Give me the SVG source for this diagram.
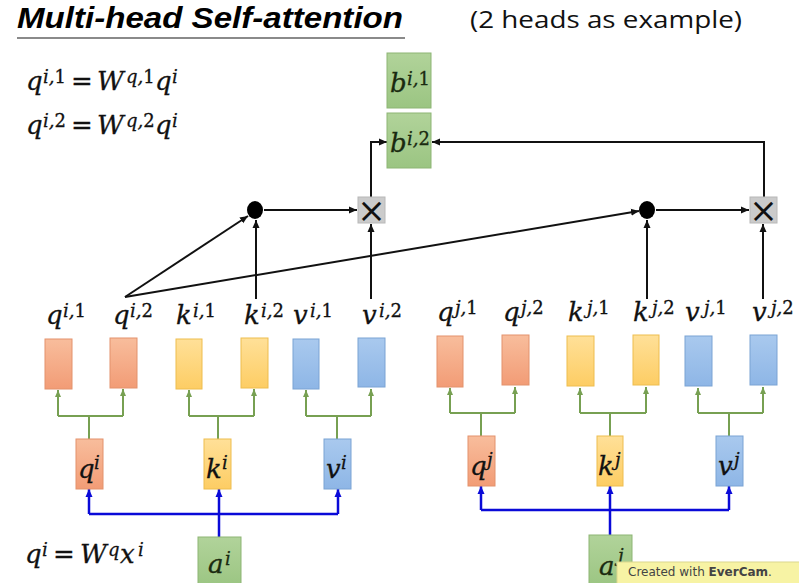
<svg xmlns="http://www.w3.org/2000/svg" width="799" height="583" viewBox="0 0 799 583">
<style>
.m{font-family:"DejaVu Serif",serif;font-style:italic;font-size:26px;fill:#111;stroke:#111;stroke-width:0.3}
.s{font-size:18px}
.u{font-style:normal}
.bin{font-family:"DejaVu Serif",serif;font-style:italic;font-size:26px;fill:#1a2a10;stroke:#1a2a10;stroke-width:0.3}
.or{fill:url(#gOr);stroke:#e3926c;stroke-width:1}
.ye{fill:url(#gYe);stroke:#eebd4f;stroke-width:1}
.bl{fill:url(#gBl);stroke:#7aa3d4;stroke-width:1}
.gr{fill:url(#gGr);stroke:#8db574;stroke-width:1}
.xb{fill:#cbcbcb;stroke:#b8b8b8;stroke-width:1}
.xt{font-family:"DejaVu Sans",sans-serif;font-size:34px;fill:#111;text-anchor:middle}
.k{fill:none;stroke:#111;stroke-width:2;marker-end:url(#ak)}
.g{fill:none;stroke:#77a052;stroke-width:2}
.ga{marker-end:url(#ag)}
.b{fill:none;stroke:#0a0ad8;stroke-width:2.5}
.ba{marker-end:url(#ab)}
</style>
<defs>
<linearGradient id="gOr" x1="0" y1="0" x2="0" y2="1"><stop offset="0" stop-color="#f8bd9c"/><stop offset="1" stop-color="#f29c76"/></linearGradient>
<linearGradient id="gYe" x1="0" y1="0" x2="0" y2="1"><stop offset="0" stop-color="#ffe098"/><stop offset="1" stop-color="#fdcd64"/></linearGradient>
<linearGradient id="gBl" x1="0" y1="0" x2="0" y2="1"><stop offset="0" stop-color="#a9c9ee"/><stop offset="1" stop-color="#8eb6e6"/></linearGradient>
<linearGradient id="gGr" x1="0" y1="0" x2="0" y2="1"><stop offset="0" stop-color="#b1d39a"/><stop offset="1" stop-color="#9bc582"/></linearGradient>
<marker id="ak" markerUnits="userSpaceOnUse" markerWidth="8" markerHeight="8" refX="8" refY="4" orient="auto"><path d="M0,0.5 L8,4 L0,7.5 z" fill="#111"/></marker>
<marker id="ag" markerUnits="userSpaceOnUse" markerWidth="7" markerHeight="7" refX="7" refY="3.5" orient="auto"><path d="M0,0.5 L7,3.5 L0,6.5 z" fill="#77a052"/></marker>
<marker id="ab" markerUnits="userSpaceOnUse" markerWidth="8" markerHeight="8" refX="8" refY="4" orient="auto"><path d="M0,0.5 L8,4 L0,7.5 z" fill="#0a0ad8"/></marker>
</defs>
<rect width="799" height="583" fill="#fff"/>

<g id="title">
<text x="17" y="28" font-family="Liberation Sans,Arial,sans-serif" font-weight="bold" font-style="italic" font-size="30" textLength="386" lengthAdjust="spacingAndGlyphs" fill="#000">Multi-head Self-attention</text>
<line x1="17" y1="38" x2="405" y2="38" stroke="#8a8a8a" stroke-width="2"/>
<text x="470" y="28" font-family="Open Sans,Liberation Sans,sans-serif" font-size="23" textLength="272" lengthAdjust="spacingAndGlyphs" fill="#111">(2 heads as example)</text>
</g>

<g id="equations">
<text class="m"><tspan x="26" y="90">q</tspan><tspan class="s" x="43" y="83">i,<tspan class="u">1</tspan></tspan><tspan class="u" x="71" y="90">=</tspan><tspan x="97" y="90">W</tspan><tspan class="s" x="126" y="83">q,<tspan class="u">1</tspan></tspan><tspan x="155" y="90">q</tspan><tspan class="s" x="172" y="83">i</tspan></text>
<text class="m"><tspan x="26" y="134">q</tspan><tspan class="s" x="43" y="127">i,<tspan class="u">2</tspan></tspan><tspan class="u" x="71" y="134">=</tspan><tspan x="97" y="134">W</tspan><tspan class="s" x="126" y="127">q,<tspan class="u">2</tspan></tspan><tspan x="155" y="134">q</tspan><tspan class="s" x="172" y="127">i</tspan></text>
<text class="m"><tspan x="25" y="563">q</tspan><tspan class="s" x="42" y="556">i</tspan><tspan class="u" x="53" y="563">=</tspan><tspan x="80" y="563">W</tspan><tspan class="s" x="108" y="556">q</tspan><tspan x="120" y="563">x</tspan><tspan class="s" x="138" y="556">i</tspan></text>
</g>

<g id="connectors">
<path class="k" d="M125,297 L248,216"/>
<path class="k" d="M125,297 L639,211"/>
<path class="k" d="M256,299 V220"/>
<path class="k" d="M371,299 V224"/>
<path class="k" d="M264,210 H357"/>
<path class="k" d="M371,197 V142 H387"/>
<path class="k" d="M647,299 V220"/>
<path class="k" d="M763,299 V224"/>
<path class="k" d="M656,210 H749"/>
<path class="k" d="M764,197 V142 H432"/>
<path class="g" d="M89,439 V416 M58,416 H123"/>
<path class="g ga" d="M58,416 V390"/>
<path class="g ga" d="M123,416 V389"/>
<path class="g" d="M218,439 V416 M189,416 H254"/>
<path class="g ga" d="M189,416 V390"/>
<path class="g ga" d="M254,416 V389"/>
<path class="g" d="M337,439 V416 M306,416 H371"/>
<path class="g ga" d="M306,416 V390"/>
<path class="g ga" d="M371,416 V389"/>
<path class="g" d="M481,436 V413 M450,413 H515"/>
<path class="g ga" d="M450,413 V388"/>
<path class="g ga" d="M515,413 V387"/>
<path class="g" d="M610,436 V413 M580,413 H646"/>
<path class="g ga" d="M580,413 V388"/>
<path class="g ga" d="M646,413 V387"/>
<path class="g" d="M729,436 V413 M698,413 H763"/>
<path class="g ga" d="M698,413 V388"/>
<path class="g ga" d="M763,413 V387"/>
<path class="b" d="M89,514 H338"/>
<path class="b ba" d="M219,537 V489"/>
<path class="b ba" d="M89,514 V489"/>
<path class="b ba" d="M338,514 V489"/>
<path class="b" d="M481,510 H729"/>
<path class="b ba" d="M610,535 V486"/>
<path class="b ba" d="M481,510 V486"/>
<path class="b ba" d="M729,510 V486"/>
</g>

<g id="b_i1"><rect class="gr" x="387" y="53" width="44" height="55"/><text class="bin"><tspan x="390" y="92">b</tspan><tspan class="s" x="407" y="85">i,<tspan class="u">1</tspan></tspan></text></g>
<g id="b_i2"><rect class="gr" x="387" y="113" width="44" height="55"/><text class="bin"><tspan x="390" y="152">b</tspan><tspan class="s" x="407" y="145">i,<tspan class="u">2</tspan></tspan></text></g>

<g id="dot_i"><ellipse cx="255" cy="210" rx="8" ry="9" fill="#000"/></g>
<g id="mul_i"><rect class="xb" x="358" y="197" width="27" height="26"/><text class="xt" x="371.5" y="222">×</text></g>
<g id="dot_j"><ellipse cx="647" cy="210" rx="8" ry="9" fill="#000"/></g>
<g id="mul_j"><rect class="xb" x="750" y="197" width="27" height="26"/><text class="xt" x="763.5" y="222">×</text></g>

<g id="q_i1"><text class="m"><tspan x="46" y="324">q</tspan><tspan class="s" x="63" y="317">i,<tspan class="u">1</tspan></tspan></text><rect class="or" x="45" y="339" width="27" height="50"/></g>
<g id="q_i2"><text class="m"><tspan x="113" y="324">q</tspan><tspan class="s" x="130" y="317">i,<tspan class="u">2</tspan></tspan></text><rect class="or" x="110" y="338" width="27" height="50"/></g>
<g id="k_i1"><text class="m"><tspan x="176" y="324">k</tspan><tspan class="s" x="193" y="317">i,<tspan class="u">1</tspan></tspan></text><rect class="ye" x="176" y="339" width="26" height="50"/></g>
<g id="k_i2"><text class="m"><tspan x="244" y="324">k</tspan><tspan class="s" x="261" y="317">i,<tspan class="u">2</tspan></tspan></text><rect class="ye" x="241" y="338" width="27" height="50"/></g>
<g id="v_i1"><text class="m"><tspan x="293" y="324">v</tspan><tspan class="s" x="310" y="317">i,<tspan class="u">1</tspan></tspan></text><rect class="bl" x="293" y="339" width="26" height="50"/></g>
<g id="v_i2"><text class="m"><tspan x="362" y="324">v</tspan><tspan class="s" x="379" y="317">i,<tspan class="u">2</tspan></tspan></text><rect class="bl" x="358" y="338" width="27" height="49"/></g>

<g id="q_j1"><text class="m"><tspan x="437" y="321">q</tspan><tspan class="s" x="455" y="314">j,<tspan class="u">1</tspan></tspan></text><rect class="or" x="437" y="336" width="26" height="51"/></g>
<g id="q_j2"><text class="m"><tspan x="503" y="321">q</tspan><tspan class="s" x="521" y="314">j,<tspan class="u">2</tspan></tspan></text><rect class="or" x="502" y="335" width="27" height="50"/></g>
<g id="k_j1"><text class="m"><tspan x="568" y="321">k</tspan><tspan class="s" x="587" y="314">j,<tspan class="u">1</tspan></tspan></text><rect class="ye" x="567" y="336" width="27" height="50"/></g>
<g id="k_j2"><text class="m"><tspan x="633" y="321">k</tspan><tspan class="s" x="652" y="314">j,<tspan class="u">2</tspan></tspan></text><rect class="ye" x="633" y="335" width="26" height="50"/></g>
<g id="v_j1"><text class="m"><tspan x="685" y="321">v</tspan><tspan class="s" x="704" y="314">j,<tspan class="u">1</tspan></tspan></text><rect class="bl" x="685" y="336" width="27" height="50"/></g>
<g id="v_j2"><text class="m"><tspan x="752" y="321">v</tspan><tspan class="s" x="771" y="314">j,<tspan class="u">2</tspan></tspan></text><rect class="bl" x="750" y="335" width="27" height="50"/></g>

<g id="q_i"><rect class="or" x="76" y="439" width="27" height="50"/><text class="m"><tspan x="78" y="478">q</tspan><tspan class="s" x="94" y="469">i</tspan></text></g>
<g id="k_i"><rect class="ye" x="204" y="439" width="27" height="50"/><text class="m"><tspan x="206" y="478">k</tspan><tspan class="s" x="222" y="469">i</tspan></text></g>
<g id="v_i"><rect class="bl" x="324" y="439" width="27" height="50"/><text class="m"><tspan x="326" y="478">v</tspan><tspan class="s" x="341" y="469">i</tspan></text></g>
<g id="q_j"><rect class="or" x="468" y="436" width="27" height="50"/><text class="m"><tspan x="470" y="475">q</tspan><tspan class="s" x="487" y="466">j</tspan></text></g>
<g id="k_j"><rect class="ye" x="597" y="436" width="26" height="50"/><text class="m"><tspan x="598" y="475">k</tspan><tspan class="s" x="615" y="466">j</tspan></text></g>
<g id="v_j"><rect class="bl" x="716" y="436" width="27" height="50"/><text class="m"><tspan x="718" y="475">v</tspan><tspan class="s" x="734" y="466">j</tspan></text></g>

<g id="a_i"><rect class="gr" x="198" y="537" width="43" height="50"/><text class="bin"><tspan x="208" y="573">a</tspan><tspan class="s" x="225" y="565">i</tspan></text></g>
<g id="a_j"><rect class="gr" x="589" y="535" width="43" height="52"/><text class="bin"><tspan x="599" y="575">a</tspan><tspan class="s" x="618" y="562">j</tspan></text></g>

<g id="evercam">
<rect x="617" y="562" width="184" height="24" fill="#f7f3a4" stroke="#dcd78e" stroke-width="1"/>
<text x="628" y="576" font-family="DejaVu Sans,sans-serif" font-size="12" fill="#444">Created with <tspan font-weight="bold">EverCam</tspan>.</text>
</g>
</svg>
